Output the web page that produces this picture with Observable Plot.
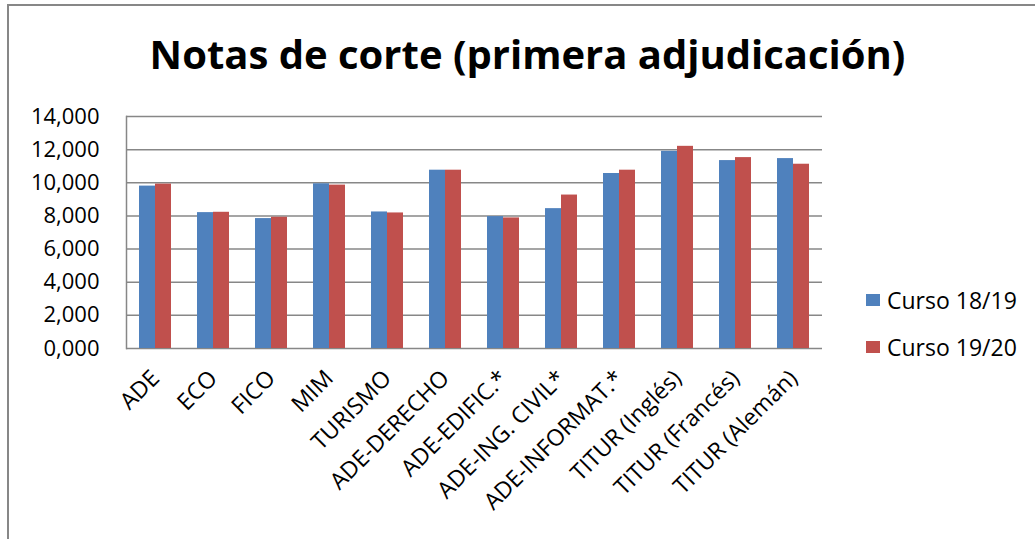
<!DOCTYPE html>
<html>
<head>
<meta charset="utf-8">
<script src="https://cdn.jsdelivr.net/npm/d3@7"></script>
<script src="https://cdn.jsdelivr.net/npm/@observablehq/plot@0.6"></script>
<style>
  html, body { margin: 0; padding: 0; background: #fff; overflow: hidden; }
  #wrap { position: relative; width: 1035px; height: 539px; font-family: "Open Sans", Lato, sans-serif; }
  #border { position: absolute; left: 7px; top: 4px; width: 1100px; height: 600px;
            border-top: 2px solid #878787; border-left: 2px solid #878787; }
  #title { position: absolute; left: 0; width: 1055px; top: 34px; text-align: center;
           font-weight: bold; font-size: 40px; line-height: 1; color: #000; white-space: nowrap; }
  #chart { position: absolute; left: 0; top: 0; }
  #legend { position: absolute; left: 866px; top: 276px; font-size: 23px; color: #000; }
  .item { display: flex; align-items: center; height: 47px; }
  .sw { width: 14px; height: 12px; margin-right: 7px; }
</style>
</head>
<body>
<div id="wrap">
  <div id="border"></div>
  <div id="chart"></div>
  <div id="title">Notas de corte (primera adjudicación)</div>
  <div id="legend"></div>
</div>
<script>
const categories = ["ADE", "ECO", "FICO", "MIM", "TURISMO", "ADE-DERECHO", "ADE-EDIFIC.*",
  "ADE-ING. CIVIL*", "ADE-INFORMAT.*", "TITUR (Inglés)", "TITUR (Francés)", "TITUR (Alemán)"];
const seriesNames = ["Curso 18/19", "Curso 19/20"];
const curso1819 = [9.80, 8.20, 7.84, 9.94, 8.24, 10.76, 7.96, 8.44, 10.56, 11.90, 11.34, 11.46];
const curso1920 = [9.92, 8.22, 7.92, 9.86, 8.18, 10.76, 7.88, 9.26, 10.76, 12.20, 11.52, 11.12];
const yTicks = [0, 2, 4, 6, 8, 10, 12, 14];
const colors = ["#4F81BD", "#C0504D"];

const rows = [];
categories.forEach((c, i) => {
  rows.push({cat: c, serie: seriesNames[0], value: curso1819[i]});
  rows.push({cat: c, serie: seriesNames[1], value: curso1920[i]});
});

const fmt = v => d3.format(".3f")(v).replace(".", ",");

const chart = Plot.plot({
  width: 1035,
  height: 539,
  marginTop: 116,
  marginBottom: 191,
  marginLeft: 124,
  marginRight: 212,
  style: {fontFamily: "'Open Sans', Lato, sans-serif", color: "#000", background: "transparent", overflow: "visible"},
  fx: {domain: categories, padding: 0, label: null},
  x: {domain: seriesNames, paddingInner: 0, paddingOuter: 0.75, axis: null},
  y: {domain: [0, 14], label: null},
  color: {domain: seriesNames, range: colors},
  marks: [
    Plot.ruleY(yTicks, {stroke: "#878787", strokeWidth: 1.5}),
    Plot.barY(rows, {fx: "cat", x: "serie", y: "value", fill: "serie"}),
    Plot.frame({anchor: "left", facetAnchor: "left", stroke: "#878787", strokeWidth: 1.5}),
    Plot.axisY({ticks: yTicks, tickFormat: fmt, tickSize: 0, tickPadding: 27, fontSize: 22, label: null}),
    Plot.axisFx({anchor: "bottom", tickRotate: -45, tickSize: 0, tickPadding: 26, fontSize: 23, label: null})
  ]
});
document.getElementById("chart").appendChild(chart);

const legend = document.getElementById("legend");
seriesNames.forEach((s, i) => {
  const it = document.createElement("div");
  it.className = "item";
  const sw = document.createElement("span");
  sw.className = "sw";
  sw.style.background = colors[i];
  const t = document.createElement("span");
  t.textContent = s;
  it.appendChild(sw); it.appendChild(t);
  legend.appendChild(it);
});
</script>
</body>
</html>
